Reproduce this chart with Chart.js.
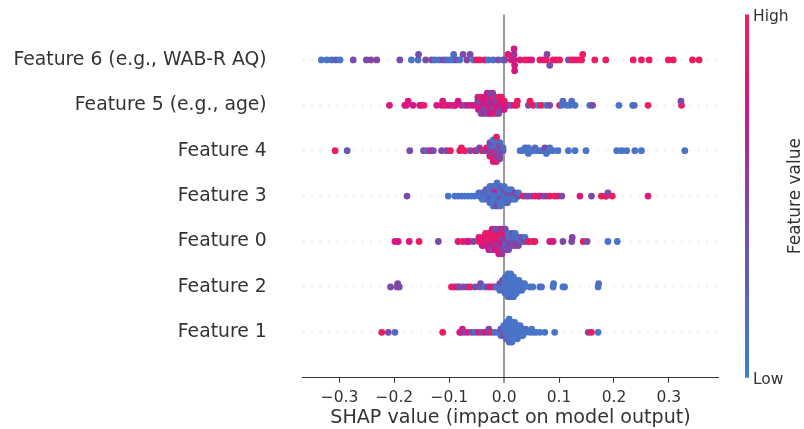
<!DOCTYPE html>
<html>
<head>
<meta charset="utf-8">
<script src="https://cdn.jsdelivr.net/npm/chart.js@4.4.1/dist/chart.umd.min.js"></script>
<style>
  html, body { margin: 0; padding: 0; background: #fff; }
  #wrap { width: 804px; height: 429px; }
</style>
</head>
<body>
<div id="wrap"><canvas id="shapChart" width="804" height="429"></canvas></div>
<script>
// row labels, bottom row first (row index 0 = Feature 1)
const featureNames = ['Feature 1', 'Feature 2', 'Feature 0', 'Feature 3', 'Feature 4',
  'Feature 5 (e.g., age)', 'Feature 6 (e.g., WAB-R AQ)'];
const xTicks = [-0.3, -0.2, -0.1, 0.0, 0.1, 0.2, 0.3];

// [shap value, feature value (0 = low, 1 = high)]
const feature6 = [
  [-0.333,0.1],[-0.323,0.12],[-0.314,0.15],[-0.306,0.3],[-0.299,0.1],[-0.275,0.45],[-0.251,0.45],[-0.243,0.5],[-0.232,0.5],[-0.190,0.45],
  [-0.169,0.1],[-0.157,0.1],[-0.156,0.4],[-0.143,0.45],[-0.132,0.45],[-0.126,0.15],[-0.118,0.1],[-0.111,0.45],[-0.105,0.2],[-0.099,0.1],
  [-0.093,0.1],[-0.092,0.15],[-0.087,0.4],[-0.081,0.1],[-0.075,0.45],[-0.068,0.5],[-0.062,0.45],
  [-0.056,0.1],[-0.050,0.85],[-0.044,0.95],[-0.035,0.8],[-0.029,0.1],[-0.020,0.15],[-0.011,0.45],[-0.002,0.1],
  [0.001,0.45],[0.007,0.8],[0.013,0.8],[0.018,0.75],[0.018,0.6],[0.019,0.8],[0.018,0.7],[0.019,0.75],[0.029,0.8],[0.038,0.95],
  [0.044,0.9],[0.050,0.8],[0.065,0.95],[0.071,0.8],[0.077,0.95],[0.078,0.5],[0.083,0.45],[0.089,0.95],
  [0.095,0.8],[0.101,0.95],[0.117,0.45],[0.123,0.95],[0.129,0.8],[0.135,0.95],[0.141,0.95],
  [0.143,0.95],[0.165,0.95],[0.185,0.95],[0.235,0.95],[0.250,0.95],[0.264,0.95],[0.299,0.95],[0.308,0.95],[0.343,0.95],[0.355,0.95]
];
const feature5 = [
  [-0.209,0.8],[-0.181,0.75],[-0.178,0.8],[-0.175,0.8],[-0.166,0.75],[-0.154,0.8],[-0.152,0.75],[-0.146,0.95],[-0.123,0.8],[-0.114,0.75],
  [-0.112,0.8],[-0.108,0.95],[-0.102,0.75],[-0.096,0.8],[-0.090,0.7],[-0.089,0.8],[-0.084,0.75],[-0.078,0.8],[-0.072,0.45],[-0.066,0.75],
  [-0.059,0.8],[-0.054,0.7],
  [-0.048,0.75],[-0.048,0.45],[-0.047,0.8],[-0.048,0.6],
  [-0.042,0.8],[-0.042,0.5],[-0.043,0.75],[-0.042,0.95],[-0.042,0.45],
  [-0.037,0.7],[-0.037,0.8],[-0.037,0.45],[-0.037,0.75],[-0.037,0.6],
  [-0.031,0.8],[-0.031,0.75],[-0.031,0.5],[-0.031,0.9],[-0.031,0.45],[-0.031,0.7],
  [-0.026,0.75],[-0.026,0.45],[-0.026,0.8],[-0.026,0.6],[-0.026,0.75],[-0.026,0.5],
  [-0.021,0.8],[-0.021,0.7],[-0.021,0.45],[-0.021,0.95],[-0.021,0.75],[-0.021,0.55],
  [-0.015,0.75],[-0.015,0.5],[-0.015,0.8],[-0.015,0.45],[-0.015,0.9],
  [-0.010,0.8],[-0.010,0.6],[-0.010,0.75],[-0.010,0.95],[-0.010,0.45],
  [-0.005,0.75],[-0.005,0.8],[-0.005,0.5],[-0.005,0.9],
  [0.000,0.8],[0.000,0.95],[0.000,0.75],
  [0.004,0.75],[0.007,0.8],[0.013,0.45],[0.019,0.8],[0.023,0.95],[0.024,0.9],[0.044,0.45],[0.047,0.95],[0.053,0.95],[0.062,0.1],
  [0.068,0.95],[0.077,0.1],[0.083,0.45],[0.101,0.95],[0.105,0.1],[0.107,0.15],[0.114,0.1],[0.120,0.1],[0.123,0.15],[0.129,0.1],
  [0.156,0.1],[0.161,0.45],[0.209,0.1],[0.234,0.1],[0.237,0.15],[0.262,0.95],[0.323,0.95],[0.322,0.45]
];
const feature4 = [
  [-0.308,0.95],[-0.286,0.3],[-0.172,0.45],[-0.147,0.45],[-0.141,0.2],[-0.134,0.8],[-0.129,0.45],[-0.114,0.45],[-0.105,0.5],[-0.098,0.95],
  [-0.081,0.95],[-0.078,0.95],[-0.072,0.95],[-0.062,0.45],[-0.053,0.8],[-0.050,0.45],[-0.045,0.5],[-0.040,0.95],[-0.036,0.45],[-0.032,0.85],
  [-0.026,0.45],[-0.026,0.8],[-0.026,0.45],[-0.026,0.3],[-0.026,0.9],[-0.026,0.45],
  [-0.020,0.45],[-0.020,0.3],[-0.020,0.8],[-0.020,0.15],[-0.020,0.45],[-0.020,0.45],[-0.020,0.85],[-0.020,0.1],[-0.020,0.9],
  [-0.014,0.3],[-0.014,0.45],[-0.014,0.45],[-0.014,0.15],[-0.014,0.8],[-0.014,0.1],[-0.014,0.45],[-0.014,0.15],[-0.014,0.85],[-0.014,0.9],
  [-0.008,0.45],[-0.008,0.2],[-0.008,0.45],[-0.008,0.8],[-0.008,0.45],[-0.008,0.15],[-0.008,0.5],
  [-0.002,0.45],[-0.002,0.2],
  [0.029,0.1],[0.033,0.1],[0.038,0.15],[0.044,0.1],[0.044,0.12],[0.044,0.1],[0.050,0.1],[0.056,0.1],[0.056,0.15],[0.062,0.1],
  [0.068,0.15],[0.074,0.1],[0.074,0.45],[0.077,0.1],[0.083,0.1],[0.083,0.12],[0.089,0.1],[0.098,0.1],[0.117,0.1],[0.129,0.1],
  [0.149,0.1],[0.205,0.1],[0.214,0.1],[0.223,0.1],[0.238,0.1],[0.250,0.1],[0.329,0.1]
];
const feature3 = [
  [-0.177,0.45],[-0.102,0.1],[-0.090,0.1],[-0.084,0.1],[-0.078,0.15],[-0.072,0.1],[-0.066,0.1],[-0.060,0.1],[-0.054,0.1],
  [-0.046,0.1],[-0.046,0.15],
  [-0.040,0.1],[-0.040,0.2],[-0.040,0.1],
  [-0.033,0.1],[-0.033,0.15],[-0.033,0.1],[-0.033,0.3],
  [-0.026,0.1],[-0.026,0.15],[-0.026,0.45],[-0.026,0.1],[-0.026,0.2],[-0.026,0.1],
  [-0.020,0.15],[-0.020,0.1],[-0.020,0.1],[-0.020,0.45],[-0.020,0.1],[-0.020,0.15],[-0.020,0.1],
  [-0.013,0.1],[-0.013,0.2],[-0.013,0.1],[-0.013,0.8],[-0.013,0.15],[-0.013,0.1],[-0.013,0.45],[-0.013,0.1],
  [-0.007,0.15],[-0.007,0.1],[-0.007,0.45],[-0.007,0.1],[-0.007,0.1],[-0.007,0.2],[-0.007,0.1],
  [0.000,0.1],[0.000,0.15],[0.000,0.1],[0.000,0.45],[0.000,0.1],[0.000,0.1],
  [0.006,0.15],[0.006,0.45],[0.006,0.1],[0.006,0.1],[0.006,0.2],
  [0.013,0.1],[0.013,0.45],[0.013,0.15],[0.013,0.1],
  [0.020,0.15],[0.020,0.5],[0.020,0.1],
  [0.026,0.45],[0.026,0.1],
  [0.035,0.95],[0.040,0.45],[0.044,0.45],[0.050,0.45],[0.056,0.9],[0.062,0.95],[0.065,0.8],[0.072,0.5],[0.077,0.45],[0.083,0.95],
  [0.092,0.95],[0.098,0.9],[0.105,0.45],[0.138,0.8],[0.159,0.45],[0.177,0.95],[0.185,0.95],[0.186,0.9],[0.189,0.45],[0.197,0.95],[0.262,0.8]
];
const feature0 = [
  [-0.199,0.8],[-0.193,0.75],[-0.173,0.8],[-0.155,0.95],[-0.120,0.45],[-0.084,0.8],[-0.075,0.95],[-0.068,0.8],[-0.064,0.75],[-0.056,0.45],
  [-0.046,0.95],[-0.046,0.8],
  [-0.040,0.8],[-0.040,0.95],[-0.040,0.75],
  [-0.034,0.95],[-0.034,0.8],[-0.034,0.75],[-0.034,0.9],
  [-0.028,0.8],[-0.028,0.95],[-0.028,0.6],[-0.028,0.9],[-0.028,0.75],
  [-0.022,0.95],[-0.022,0.8],[-0.022,0.75],[-0.022,0.9],[-0.022,0.45],[-0.022,0.8],
  [-0.016,0.8],[-0.016,0.9],[-0.016,0.6],[-0.016,0.95],[-0.016,0.75],[-0.016,0.45],
  [-0.010,0.75],[-0.010,0.95],[-0.010,0.5],[-0.010,0.8],[-0.010,0.9],[-0.010,0.45],[-0.010,0.8],
  [-0.004,0.8],[-0.004,0.45],[-0.004,0.75],[-0.004,0.95],[-0.004,0.5],[-0.004,0.8],[-0.004,0.6],
  [0.002,0.45],[0.002,0.6],[0.002,0.2],[0.002,0.8],[0.002,0.45],[0.002,0.5],
  [0.008,0.45],[0.008,0.2],[0.008,0.5],[0.008,0.1],[0.008,0.45],
  [0.014,0.4],[0.014,0.15],[0.014,0.45],[0.014,0.3],
  [0.020,0.45],[0.020,0.2],[0.020,0.5],[0.020,0.1],
  [0.026,0.45],[0.026,0.15],[0.026,0.5],
  [0.032,0.2],[0.032,0.45],
  [0.038,0.45],[0.038,0.1],
  [0.044,0.95],[0.051,0.95],[0.056,0.95],[0.083,0.8],[0.089,0.75],[0.107,0.45],[0.123,0.45],[0.124,0.5],[0.144,0.95],[0.151,0.45],
  [0.189,0.1],[0.206,0.1]
];
const feature2 = [
  [-0.207,0.45],[-0.195,0.45],[-0.194,0.5],[-0.191,0.45],[-0.096,0.95],[-0.090,0.8],[-0.085,0.9],[-0.082,0.45],[-0.075,0.45],[-0.068,0.5],
  [-0.062,0.95],[-0.053,0.45],[-0.044,0.3],[-0.043,0.4],[-0.035,0.1],[-0.030,0.45],[-0.026,0.8],[-0.020,0.95],[-0.016,0.5],[-0.014,0.1],
  [-0.008,0.1],[-0.008,0.45],[-0.008,0.15],
  [-0.003,0.1],[-0.003,0.2],[-0.003,0.1],[-0.003,0.45],
  [0.002,0.1],[0.002,0.1],[0.002,0.15],[0.002,0.1],[0.002,0.2],[0.002,0.1],
  [0.007,0.1],[0.007,0.15],[0.007,0.1],[0.007,0.1],[0.007,0.1],[0.007,0.2],[0.007,0.1],[0.007,0.1],
  [0.012,0.1],[0.012,0.1],[0.012,0.15],[0.012,0.1],[0.012,0.1],[0.012,0.1],[0.012,0.2],[0.012,0.1],
  [0.017,0.1],[0.017,0.15],[0.017,0.1],[0.017,0.1],[0.017,0.1],[0.017,0.1],[0.017,0.15],
  [0.022,0.1],[0.022,0.1],[0.022,0.15],[0.022,0.1],[0.022,0.1],
  [0.027,0.1],[0.027,0.15],[0.027,0.1],[0.027,0.1],
  [0.032,0.1],[0.032,0.1],[0.032,0.15],
  [0.037,0.1],[0.037,0.1],
  [0.047,0.1],[0.052,0.1],[0.065,0.1],[0.068,0.15],[0.089,0.1],[0.090,0.1],[0.107,0.1],[0.110,0.1],[0.171,0.1],[0.172,0.15]
];
const feature1 = [
  [-0.223,0.95],[-0.211,0.45],[-0.199,0.2],[-0.112,0.95],[-0.081,0.8],[-0.078,0.75],[-0.076,0.8],[-0.072,0.45],[-0.066,0.8],[-0.059,0.45],
  [-0.053,0.15],[-0.047,0.8],[-0.041,0.45],[-0.035,0.8],[-0.029,0.45],[-0.028,0.5],[-0.023,0.95],[-0.017,0.15],[-0.011,0.1],
  [-0.006,0.2],[-0.006,0.45],[-0.006,0.1],
  [-0.001,0.1],[-0.001,0.15],[-0.001,0.45],[-0.001,0.1],
  [0.004,0.1],[0.004,0.15],[0.004,0.1],[0.004,0.1],[0.004,0.2],[0.004,0.1],
  [0.009,0.1],[0.009,0.1],[0.009,0.15],[0.009,0.1],[0.009,0.1],[0.009,0.1],[0.009,0.2],[0.009,0.1],
  [0.014,0.1],[0.014,0.15],[0.014,0.1],[0.014,0.1],[0.014,0.1],[0.014,0.1],[0.014,0.15],
  [0.019,0.1],[0.019,0.1],[0.019,0.15],[0.019,0.1],[0.019,0.1],[0.019,0.1],
  [0.024,0.1],[0.024,0.15],[0.024,0.1],[0.024,0.1],[0.024,0.1],
  [0.029,0.1],[0.029,0.1],[0.029,0.15],[0.029,0.1],
  [0.034,0.1],[0.034,0.1],[0.034,0.1],
  [0.039,0.1],[0.039,0.15],
  [0.047,0.1],[0.050,0.1],[0.053,0.1],[0.058,0.1],[0.065,0.1],[0.074,0.1],[0.092,0.1],[0.153,0.45],[0.159,0.95],[0.171,0.1]
];

const rows = [feature1, feature2, feature0, feature3, feature4, feature5, feature6];

// blue -> purple -> red, like the shap red_blue map
const cmapStops = [
  [0.0, [60, 128, 210]],
  [0.25, [90, 98, 190]],
  [0.5, [132, 68, 165]],
  [0.75, [212, 22, 135]],
  [1.0, [242, 30, 85]]
];
function cmap(v) {
  for (let i = 1; i < cmapStops.length; i++) {
    const [p1, c1] = cmapStops[i];
    const [p0, c0] = cmapStops[i - 1];
    if (v <= p1) {
      const t = (v - p0) / (p1 - p0);
      const c = c0.map((a, k) => Math.round(a + (c1[k] - a) * t));
      return `rgb(${c[0]},${c[1]},${c[2]})`;
    }
  }
  const c = cmapStops[cmapStops.length - 1][1];
  return `rgb(${c[0]},${c[1]},${c[2]})`;
}

// beeswarm stacking the way shap does it: bin by value, alternate up/down inside a bin
const NBINS = 100;
const ROW_HEIGHT = 0.4;
function swarm(points, row) {
  const xs = points.map(p => p[0]);
  const lo = Math.min(...xs), hi = Math.max(...xs);
  const quant = xs.map(x => Math.round(NBINS * (x - lo) / (hi - lo + 1e-8)));
  const order = xs.map((_, i) => i).sort((a, b) => quant[a] - quant[b] || a - b);
  const ys = new Array(xs.length).fill(0);
  let layer = 0, last = -1;
  for (const i of order) {
    if (quant[i] !== last) layer = 0;
    ys[i] = Math.ceil(layer / 2) * ((layer % 2) * 2 - 1);
    layer++;
    last = quant[i];
  }
  const top = Math.max(...ys.map(y => y + 1));
  return points.map((p, i) => ({ x: p[0], y: row + ys[i] * 0.9 * (ROW_HEIGHT / top) }));
}

const datasets = rows.map((pts, r) => ({
  data: swarm(pts, r),
  backgroundColor: pts.map(p => cmap(p[1])),
  borderWidth: 0,
  pointRadius: 3.4,
  pointHoverRadius: 3.4
}));

const fmtTick = v => (v < 0 ? '\u2212' : '') + Math.abs(v).toFixed(1);

const colorbar = {
  id: 'colorbar',
  afterDraw(chart) {
    const { ctx, chartArea } = chart;
    const x0 = 745, w = 4;
    const g = ctx.createLinearGradient(0, chartArea.bottom, 0, chartArea.top);
    cmapStops.forEach(([p]) => g.addColorStop(p, cmap(p)));
    ctx.save();
    ctx.fillStyle = g;
    ctx.fillRect(x0, chartArea.top, w, chartArea.bottom - chartArea.top);
    ctx.fillStyle = '#333333';
    ctx.font = '15.5px "DejaVu Sans"';
    ctx.textAlign = 'left';
    ctx.textBaseline = 'middle';
    ctx.fillText('High', x0 + w + 4, chartArea.top + 2);
    ctx.fillText('Low', x0 + w + 4, chartArea.bottom + 2);
    ctx.font = '17px "DejaVu Sans"';
    ctx.translate(796, (chartArea.top + chartArea.bottom) / 2);
    ctx.rotate(-Math.PI / 2);
    ctx.textAlign = 'center';
    ctx.fillText('Feature value', 0, 0);
    ctx.restore();
  }
};

new Chart(document.getElementById('shapChart'), {
  type: 'scatter',
  data: { datasets },
  options: {
    responsive: false,
    animation: false,
    layout: { padding: { left: 12.7, right: 85.7, top: 14.5, bottom: 0 } },
    plugins: { legend: { display: false }, tooltip: { enabled: false } },
    scales: {
      x: {
        min: -0.367, max: 0.39,
        afterBuildTicks: s => { s.ticks = xTicks.map(v => ({ value: v })); },
        afterFit: s => { s.height = 51.3; s.paddingLeft = 0; s.paddingRight = 0; },
        ticks: { callback: fmtTick, color: '#333333', font: { family: 'DejaVu Sans', size: 15.5 }, padding: 6 },
        grid: {
          color: c => (c.tick && c.tick.value === 0 ? '#999999' : 'rgba(0,0,0,0)'),
          lineWidth: c => (c.tick && c.tick.value === 0 ? 2 : 1),
          tickColor: '#333333', tickWidth: 1.1, tickLength: 5
        },
        border: { display: true, color: '#333333', width: 1.1 },
        title: {
          display: true, text: 'SHAP value (impact on model output)', color: '#333333',
          font: { family: 'DejaVu Sans', size: 19.1 }, padding: { top: 0, bottom: 0 }
        }
      },
      y: {
        min: -1, max: 7,
        afterBuildTicks: s => { s.ticks = featureNames.map((_, i) => ({ value: i })); },
        afterFit: s => { s.width = 290; s.paddingTop = 0; s.paddingBottom = 0; },
        ticks: { callback: v => featureNames[v], color: '#333333', font: { family: 'DejaVu Sans', size: 18.8 }, padding: 36 },
        grid: { color: '#cccccc', lineWidth: 0.8, drawTicks: false },
        border: { display: false, dash: [1.4, 7] }
      }
    }
  },
  plugins: [colorbar]
});
</script>
</body>
</html>
